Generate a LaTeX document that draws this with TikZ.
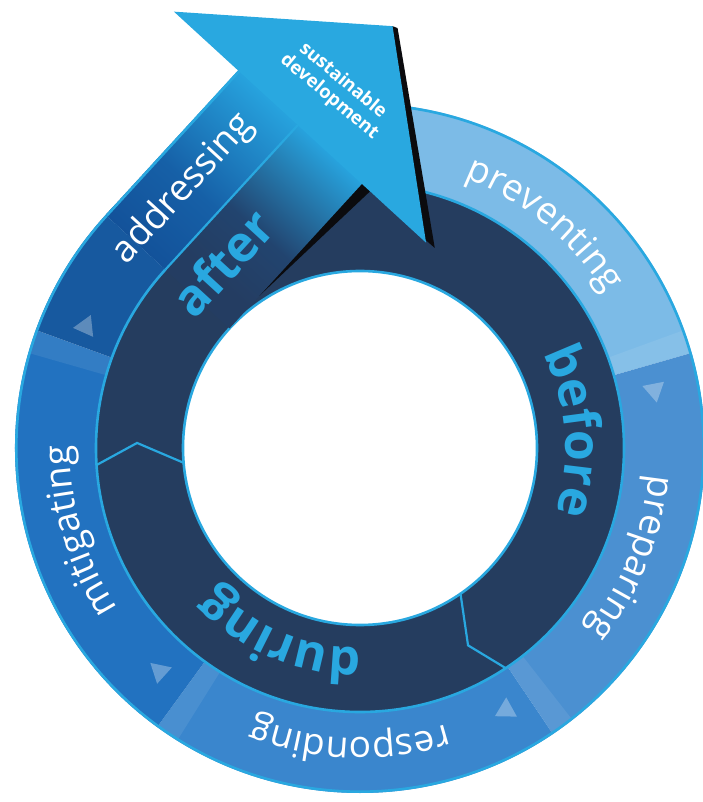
\documentclass[tikz,border=0pt]{standalone}
\usepackage{fontspec}
\setmainfont{Open Sans}
\usetikzlibrary{decorations.text}
\definecolor{cyanA}{HTML}{29A8E0}
\definecolor{navy}{HTML}{253D5F}
\definecolor{prevC}{HTML}{7CBBE7}
\definecolor{prepC}{HTML}{4B90D1}
\definecolor{respC}{HTML}{3A86CD}
\definecolor{mitiC}{HTML}{2272C0}
\definecolor{addrC}{HTML}{17599F}
\definecolor{addrS}{HTML}{13529A}
\definecolor{addrM}{HTML}{1660A7}
\definecolor{aftS}{HTML}{243D62}
\definecolor{aftM}{HTML}{22446F}
\definecolor{tipC}{HTML}{27A3DE}
\definecolor{shadowC}{HTML}{0B0B0E}
\pgfdeclarehorizontalshading{addrshade}{100bp}{color(0bp)=(addrS); color(25bp)=(addrS); color(45bp)=(addrM); color(75bp)=(tipC); color(100bp)=(tipC)}
\pgfdeclarehorizontalshading{aftshade}{100bp}{color(0bp)=(aftS); color(25bp)=(aftS); color(32bp)=(aftS); color(48bp)=(aftM); color(75bp)=(tipC); color(100bp)=(tipC)}
\begin{document}
\begin{tikzpicture}[x=1pt,y=1pt,
  ringline/.style={draw=cyanA, line width=2.6pt},
  chev/.style={draw=cyanA, line width=2.2pt, line join=miter},
  tri/.style={fill=white, fill opacity=0.3},
  endglow/.style={fill=white, fill opacity=0.08},
  outerword/.style={decorate, decoration={text along path, text align=center, text color=white, text={|\fontsize{37}{37}\selectfont|#1}}},
  darkword/.style={decorate, decoration={text along path, text align=center, text color=cyanA, text={|\fontsize{50}{50}\selectfont\bfseries|#1}}},
  flatword/.style={text=white, inner sep=0pt, font=\fontsize{37}{37}\selectfont},
  boldword/.style={text=cyanA, inner sep=0pt, font=\fontsize{50}{50}\selectfont\bfseries},
]
\useasboundingbox (-360,-354) rectangle (342,448);
\fill[white] (-360,-354) rectangle (342,448);
% outer band segments
\fill[prevC] (0,0) -- (137.5:345) arc[start angle=137.5, end angle=16, radius=345] -- cycle;
\fill[prepC] (0,0) -- (16:345) arc[start angle=16, end angle=-56, radius=345] -- cycle;
\fill[respC] (0,0) -- (-56:345) arc[start angle=-56, end angle=-126, radius=345] -- cycle;
\fill[mitiC] (0,0) -- (-126:345) arc[start angle=-126, end angle=-200, radius=345] -- cycle;
\fill[addrC] (0,0) -- (160:345) arc[start angle=160, end angle=137.5, radius=345] -- cycle;
% light strips at the end of each segment
\foreach \ang in {16,-56,-126,160}{
  \fill[endglow] (0,0) -- (\ang:345) arc[start angle=\ang, end angle=\ang+4, radius=345] -- cycle;
}
% triangles
\foreach \ang in {11,-61,-132,156}{
  \fill[tri, rotate=\ang] (289,7) -- (311,7) -- (300,-12) -- cycle;
}
% dark ring
\fill[navy] (0,0) circle[radius=264];
\draw[ringline] (0,0) circle[radius=343.7];
\draw[ringline] (0,0) circle[radius=264];
\draw[chev] (183.7:264) -- (178.7:223) -- (184.8:177);
\draw[chev] (-56.5:264) -- (-61.3:225) -- (-55.4:177);
% shadow of the arrow
\begin{scope}[rotate=47.5]
\fill[shadowC] (44,177) -- (196,166) -- (198,80) -- (335,256) -- (333,261) -- (196,261) -- cycle;
\end{scope}
% hole
\fill[white] (0,0) circle[radius=177];
\draw[ringline] (0,0) circle[radius=177];
% shaft (shaded along its length)
\begin{scope}[transform canvas={rotate=47.5}]
\shade[shading=addrshade] (0,264) rectangle (197,345);
\shade[shading=aftshade] (0,177) rectangle (197,264.5);
\end{scope}
\begin{scope}[rotate=47.5]
\draw[ringline] (0,343.7) -- (196,343.7);
\draw[draw=cyanA, line width=2.2pt] (0,264) -- (196,264);
\fill[cyanA] (196,90) -- (333,261) -- (196,432) -- cycle;
\node[flatword, rotate=47.5] (addr) at (71.7,305) {addressing};
\node[boldword, rotate=47.5, anchor=base] (aft) at (44,208) {after};
\end{scope}
% curved words
\path[outerword=preventing] (95:290) arc[start angle=95, end angle=6, radius=290];
\path[outerword=preparing] (23:290) arc[start angle=23, end angle=-67, radius=290];
\path[outerword=responding] (-42:290) arc[start angle=-42, end angle=-142, radius=290];
\path[outerword=mitigating] (246.5:290) arc[start angle=246.5, end angle=146.5, radius=290];
\path[darkword=before] (60:206) arc[start angle=60, end angle=-51, radius=206];
\path[darkword=during] (-58:200) arc[start angle=-58, end angle=-168, radius=200];
\node[text=white, font=\fontsize{18.5}{21}\selectfont\bfseries, align=center, rotate=-40, inner sep=0pt] (sd) at (-24,359) {sustainable\\development};
\end{tikzpicture}
\end{document}
